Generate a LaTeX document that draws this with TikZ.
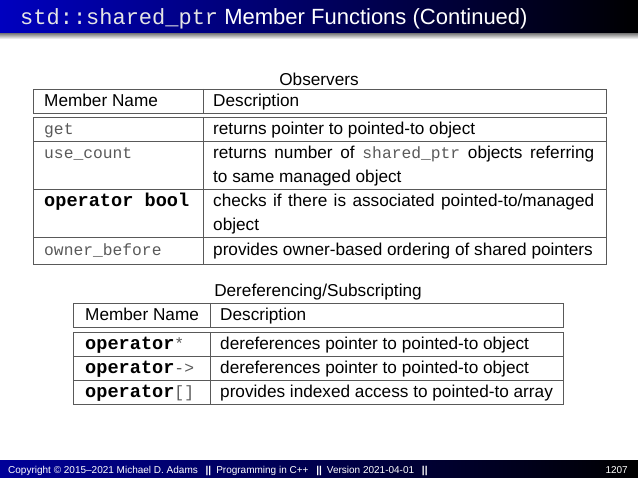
\documentclass[tikz,border=0pt]{standalone}
\usepackage{fontspec}
\setmainfont{Liberation Sans}
\setmonofont{Liberation Mono}
\tikzset{
  tbl/.style={draw=black!65,line width=0.9pt},
  sep/.style={draw=black!65,line width=0.9pt},
  txt/.style={anchor=base west,inner sep=0pt,font=\fontsize{17.2}{20}\selectfont},
  lbl/.style={anchor=base,inner sep=0pt,font=\fontsize{17.2}{20}\selectfont},
}
\newcommand{\cg}[1]{\textcolor{black!65}{\fontsize{16.3}{20}\selectfont\ttfamily #1}}
\newcommand{\cb}[1]{{\fontsize{18.6}{20}\selectfont\ttfamily\bfseries #1}}
\begin{document}
\begin{tikzpicture}[x=1pt,y=-1pt]
\useasboundingbox (0,0) rectangle (638,478);
% title bar
\shade[left color=blue!75!black,right color=black] (0,0) rectangle (638,34);
\shade[top color=black!45,bottom color=white] (0,34) rectangle (638,39);
\node[anchor=base west,inner sep=0pt,text=white,font=\fontsize{22}{24}\selectfont] (title) at (20,25)
  {{\ttfamily\color{black!10}std::shared\_ptr} Member Functions (Continued)};
% footer
\shade[left color=blue!60!black,right color=black] (0,461) rectangle (638,478);
\node[anchor=base west,inner sep=0pt,text=white,font=\fontsize{10}{12}\selectfont] (foot) at (8,473.5)
  {Copyright \textcopyright{} 2015--2021 Michael D. Adams \enspace\textbf{||}\enspace Programming in C++ \enspace\textbf{||}\enspace Version 2021-04-01 \enspace\textbf{||}};
\node[anchor=base east,inner sep=0pt,text=white,font=\fontsize{10}{12}\selectfont] (pg) at (628,473.5) {1207};
% table 1
\node[lbl] (obs) at (319,86) {Observers};
\draw[tbl] (33,89) rectangle (606,113);
\draw[sep] (203,89) -- (203,113);
\draw[tbl] (33,117) rectangle (606,264);
\draw[sep] (203,117) -- (203,264);
\draw[sep] (33,141) -- (606,141);
\draw[sep] (33,189) -- (606,189);
\draw[sep] (33,237) -- (606,237);
\node[txt] (h1) at (44,107) {Member Name};
\node[txt] (h2) at (213,107) {Description};
\node[txt] (r1a) at (44,135) {\cg{get}};
\node[txt] (r1b) at (213,135) {returns pointer to pointed-to object};
\node[txt] (r2a) at (44,159) {\cg{use\_count}};
\node[txt] (r2b) at (213,159) {\makebox[381pt][s]{returns number of \cg{shared\_ptr} objects referring}};
\node[txt] (r2c) at (213,183) {to same managed object};
\node[txt] (r3a) at (44,207) {\cb{operator bool}};
\node[txt] (r3b) at (213,207) {\makebox[381pt][s]{checks if there is associated pointed-to/managed}};
\node[txt] (r3c) at (213,231) {object};
\node[txt] (r4a) at (44,256) {\cg{owner\_before}};
\node[txt] (r4b) at (213,256) {provides owner-based ordering of shared pointers};
% table 2
\node[lbl] (der) at (318,297) {Dereferencing/Subscripting};
\draw[tbl] (73,303) rectangle (563,327);
\draw[sep] (210,303) -- (210,327);
\draw[tbl] (73,332) rectangle (563,404);
\draw[sep] (210,332) -- (210,404);
\draw[sep] (73,356) -- (563,356);
\draw[sep] (73,380) -- (563,380);
\node[txt] (g1) at (85,321) {Member Name};
\node[txt] (g2) at (220,321) {Description};
\node[txt] (s1a) at (85,350) {\cb{operator}\cg{*}};
\node[txt] (s1b) at (220,350) {dereferences pointer to pointed-to object};
\node[txt] (s2a) at (85,374) {\cb{operator}\cg{->}};
\node[txt] (s2b) at (220,374) {dereferences pointer to pointed-to object};
\node[txt] (s3a) at (85,398) {\cb{operator}\cg{[]}};
\node[txt] (s3b) at (220,398) {provides indexed access to pointed-to array};
\end{tikzpicture}
\end{document}
